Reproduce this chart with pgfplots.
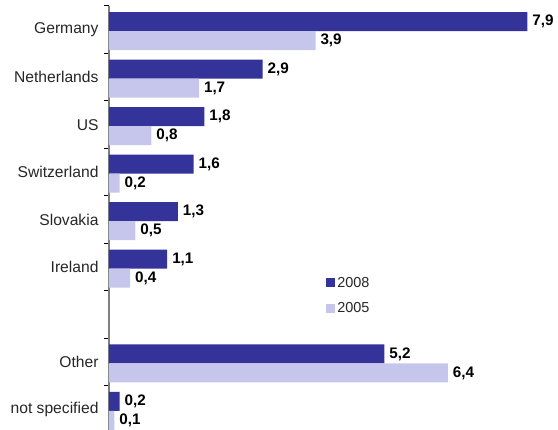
\documentclass[border=0pt]{standalone}
\usepackage{fontspec}
\setmainfont{Liberation Sans}
\usepackage{pgfplots}
\pgfplotsset{compat=1.18}
\definecolor{darkbar}{RGB}{51,51,153}
\definecolor{lightbar}{RGB}{198,198,236}
\begin{document}
\begin{tikzpicture}
\begin{axis}[
  name=ax,
  x=52.95bp, y=47.46bp,
  xmin=0, xmax=8.4, ymin=-0.5, ymax=8.5,
  axis x line=none,
  axis y line=left,
  y axis line style={-, draw=gray, line width=1.3bp},
  xbar, bar width=19bp,
  ytick={0,...,8},
  yticklabels={not specified,Other,{},Ireland,Slovakia,Switzerland,US,Netherlands,Germany},
  major tick length=0pt,
  minor ytick={-0.5,0.5,...,8.5},
  minor tick length=5bp,
  tick align=outside,
  minor tick style={black, line width=1bp},
  yticklabel style={font=\fontsize{15.7}{18}\selectfont, xshift=-7bp, text=black!85},
  clip=false,
  nodes near coords,
  nodes near coords style={font=\bfseries\fontsize{15.3}{18}\selectfont, anchor=west, text=black, xshift=1.5bp,
    /pgf/number format/.cd, fixed, fixed zerofill, precision=1, use comma, assume math mode=true},
  legend style={draw=none, fill=none, at={(axis cs:4.53,2.4)}, anchor=center,
    font=\fontsize{14.5}{17}\selectfont, row sep=10bp, text=black!85},
  legend image code/.code={\fill[#1] (0bp,-4.5bp) rectangle (9bp,4.5bp);},
]
\addplot[draw=none, fill=darkbar, bar shift=8bp] coordinates {
  (7.9,8) (2.9,7) (1.8,6) (1.6,5) (1.3,4) (1.1,3) (5.2,1) (0.2,0)};
\addlegendentry{2008}
\addplot[draw=none, fill=lightbar, bar shift=-11bp] coordinates {
  (3.9,8) (1.7,7) (0.8,6) (0.2,5) (0.5,4) (0.4,3) (6.4,1) (0.1,0)};
\addlegendentry{2005}
\end{axis}
\pgfresetboundingbox
\useasboundingbox ([xshift=-109bp,yshift=-424bp]ax.north west) rectangle ([xshift=449bp,yshift=6bp]ax.north west);
\end{tikzpicture}
\end{document}
